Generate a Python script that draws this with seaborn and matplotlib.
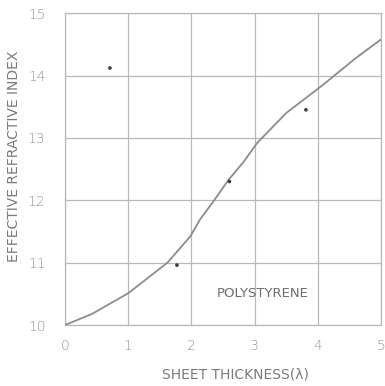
import numpy as np
import matplotlib
matplotlib.use("Agg")
import matplotlib.pyplot as plt
import seaborn as sns

# curve
curve_x = [0.0, 0.43, 1.0, 1.62, 1.98, 2.14, 2.36, 2.58, 2.82, 3.04, 3.5, 4.08, 4.6, 5.0]
curve_y = [10.0, 10.18, 10.51, 11.0, 11.42, 11.70, 12.0, 12.32, 12.61, 12.92, 13.4, 13.85, 14.28, 14.58]

# measured points
pts_x = [0.71, 1.77, 2.6, 3.81]
pts_y = [14.12, 10.96, 12.3, 13.45]

x_ticks = [0, 1, 2, 3, 4, 5]
y_ticks = [10, 11, 12, 13, 14, 15]

sns.set_style("white")
plt.rcParams['font.family'] = ['DejaVu Sans']

fig = plt.figure(figsize=(3.85, 3.86), dpi=100)
ax = fig.add_axes([0.169, 0.158, 0.821, 0.808])

grid_col = "#b8b8b8"
txt_col = "#959595"

sns.lineplot(x=curve_x, y=curve_y, ax=ax, color="#8c8c8c", linewidth=1.3, zorder=3)
sns.scatterplot(x=pts_x, y=pts_y, ax=ax, color="#3c3c3c", s=7, edgecolor="none", zorder=4)

ax.set_xlim(0, 5)
ax.set_ylim(10, 15)
ax.set_xticks(x_ticks)
ax.set_yticks(y_ticks)
ax.grid(True, color=grid_col, linewidth=0.9)
for s in ax.spines.values():
    s.set_color(grid_col)
    s.set_linewidth(0.9)
ax.tick_params(length=0, colors=txt_col, labelsize=10, pad=10)
ax.tick_params(axis="y", pad=14)
for lab in ax.get_xticklabels() + ax.get_yticklabels():
    lab.set_fontweight("light")

ax.text(3.12, 10.5, "POLYSTYRENE", color="#6e6e6e", fontsize=9.5, ha="center", va="center")

ax.set_xlabel("SHEET THICKNESS(λ)", color="#7a7a7a", fontsize=10)
ax.set_ylabel("EFFECTIVE REFRACTIVE INDEX", color="#7a7a7a", fontsize=10)
ax.xaxis.set_label_coords(0.54, -0.135)
ax.yaxis.set_label_coords(-0.138, 0.54)

fig.savefig("out.png", dpi=100, facecolor="white")
